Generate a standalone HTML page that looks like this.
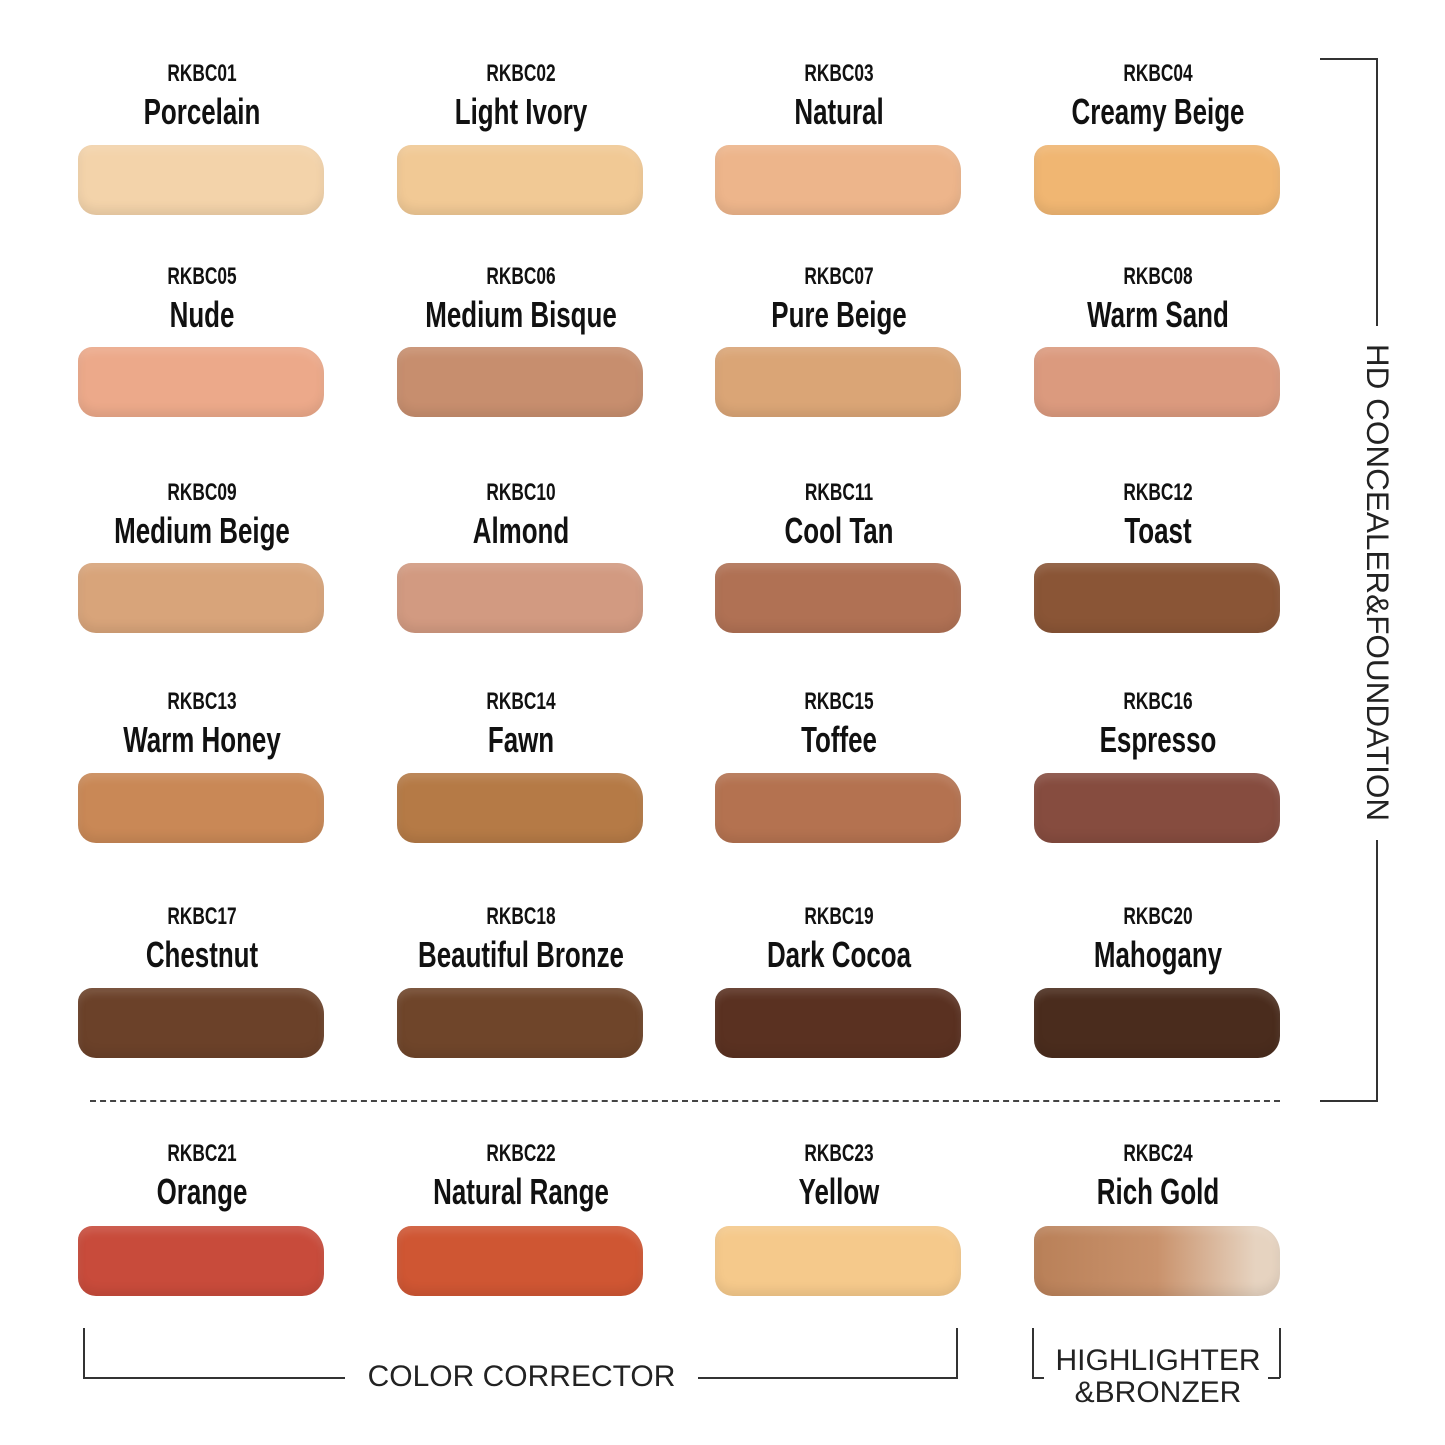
<!DOCTYPE html>
<html><head><meta charset="utf-8"><style>
html,body{margin:0;padding:0;background:#fff}
body{width:1445px;height:1445px;position:relative;overflow:hidden;font-family:"Liberation Sans",sans-serif}
.c{position:absolute;width:300px;text-align:center;color:#111}
.code{font-size:24px;font-weight:bold;transform:scaleX(0.72);transform-origin:center;letter-spacing:0}
.name{font-size:36px;font-weight:bold;transform:scaleX(0.72);transform-origin:center;white-space:nowrap}
.sw{position:absolute;width:246px;height:70px;border-radius:14px 26px 22px 18px;box-shadow:inset 0 -6px 10px rgba(0,0,0,0.08),inset 0 6px 8px rgba(255,255,255,0.12)}
.ln{position:absolute;background:#333}
.lbl{position:absolute;font-size:31px;color:#222;letter-spacing:0.5px}
</style></head><body>
<div id="g"></div>
<script>
var d=[["RKBC01","Porcelain","#f3d3aa"],["RKBC02","Light Ivory","#f1c995"],["RKBC03","Natural","#edb58b"],["RKBC04","Creamy Beige","#f0b672"],
["RKBC05","Nude","#eca98a"],["RKBC06","Medium Bisque","#c78e6e"],["RKBC07","Pure Beige","#daa576"],["RKBC08","Warm Sand","#db9a7e"],
["RKBC09","Medium Beige","#d8a47a"],["RKBC10","Almond","#d29a81"],["RKBC11","Cool Tan","#b07154"],["RKBC12","Toast","#8a5536"],
["RKBC13","Warm Honey","#c98856"],["RKBC14","Fawn","#b57a46"],["RKBC15","Toffee","#b47250"],["RKBC16","Espresso","#864c3f"],
["RKBC17","Chestnut","#6b4129"],["RKBC18","Beautiful Bronze","#6f452a"],["RKBC19","Dark Cocoa","#5a3121"],["RKBC20","Mahogany","#4a2c1d"],
["RKBC21","Orange","#c84b3b"],["RKBC22","Natural Range","#cf5633"],["RKBC23","Yellow","#f5c98b"],["RKBC24","Rich Gold","#c9926c"]];
var cx=[202,521,839,1158],rows=[[60,145],[263,347],[479,563],[688,773],[903,988],[1140,1226]];
var h="";
d.forEach(function(e,i){var r=Math.floor(i/4),c=i%4,x=cx[c],y=rows[r][0],s=rows[r][1];
h+='<div class="c code" style="left:'+(x-150)+'px;top:'+y+'px">'+e[0]+'</div>';
h+='<div class="c name" style="left:'+(x-150)+'px;top:'+(y+31)+'px">'+e[1]+'</div>';
var bg=e[2];if(i==23)bg='linear-gradient(90deg,#b98058,#c9926c 50%,#e6d3c0 90%)';
h+='<div class="sw" style="left:'+(x-124)+'px;top:'+s+'px;background:'+bg+'"></div>';});
document.getElementById('g').innerHTML=h;
</script>
<div style="position:absolute;left:90px;top:1100px;width:1190px;border-top:2px dashed #444"></div>
<div class="ln" style="left:1320px;top:58px;width:58px;height:2px"></div>
<div class="ln" style="left:1376px;top:58px;width:2px;height:268px"></div>
<div class="ln" style="left:1376px;top:840px;width:2px;height:262px"></div>
<div class="ln" style="left:1320px;top:1100px;width:58px;height:2px"></div>
<div class="lbl" style="left:1377px;top:335px;transform-origin:0 0;transform:rotate(90deg) translate(0,-19px);white-space:nowrap;font-size:31.5px;width:495px;text-align:center;letter-spacing:0">HD CONCEALER&amp;FOUNDATION</div>
<div class="ln" style="left:83px;top:1328px;width:2px;height:50px"></div>
<div class="ln" style="left:83px;top:1377px;width:262px;height:2px"></div>
<div class="lbl" style="left:345px;top:1360px;width:353px;text-align:center;letter-spacing:0;font-size:30px">COLOR CORRECTOR</div>
<div class="ln" style="left:698px;top:1377px;width:260px;height:2px"></div>
<div class="ln" style="left:956px;top:1328px;width:2px;height:50px"></div>
<div class="ln" style="left:1032px;top:1328px;width:2px;height:50px"></div>
<div class="ln" style="left:1032px;top:1377px;width:12px;height:2px"></div>
<div class="ln" style="left:1268px;top:1377px;width:12px;height:2px"></div>
<div class="ln" style="left:1279px;top:1328px;width:2px;height:50px"></div>
<div class="lbl" style="left:1040px;top:1345px;width:236px;text-align:center;line-height:32px;letter-spacing:0;font-size:30px">HIGHLIGHTER<br>&amp;BRONZER</div>
</body></html>
